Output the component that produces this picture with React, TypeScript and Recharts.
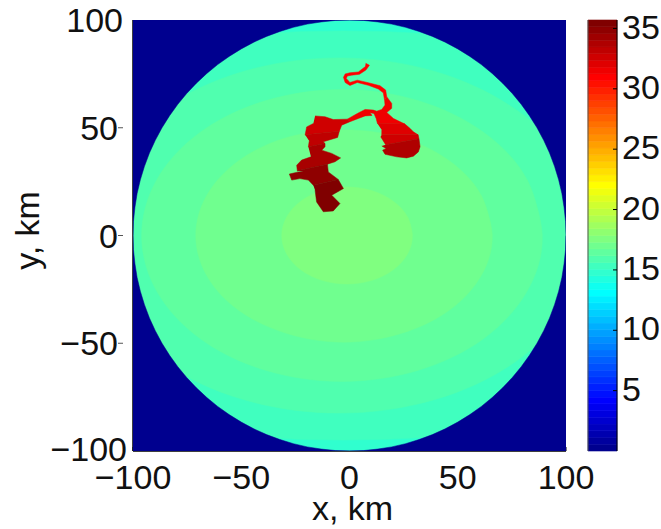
import React from 'react';
import { BarChart, Bar, ScatterChart, Scatter, XAxis, YAxis, ReferenceLine } from 'recharts';

type Pair = number[];

const AXIS_TICKS = [-100, -50, 0, 50, 100];
const COLORBAR_TICKS = [5, 10, 15, 20, 25, 30, 35];
const COLORBAR_MAX = 35.7;

// background bands, km
const PLOT_RECT: Pair[] = [[-100, -100], [100, -100], [100, 100], [-100, 100]];
const BAND_1: Pair[] = [
    [-123, 82.2], [-103, 86.3], [-83, 89.5], [-63, 91.9], [-43, 93.6], [-23, 94.6], [-3, 94.9], [17, 94.6], [37, 93.6], [57, 91.9], [77, 89.5], [97, 86.3], [117, 82.2],
    [117, -82.2], [97, -86.3], [77, -89.5], [57, -91.9], [37, -93.6], [17, -94.6], [-3, -94.9], [-23, -94.6], [-43, -93.6], [-63, -91.9], [-83, -89.5], [-103, -86.3], [-123, -82.2],
];
const BAND_2: Pair[] = [
    [110.9, 0], [102.1, 31.5], [77, 58.3], [39.5, 76.1], [-4.8, 82.4], [-49.1, 76.1], [-86.6, 58.3], [-111.7, 31.5], [-120.5, 0],
    [-111.7, -31.5], [-86.6, -58.3], [-49.1, -76.1], [-4.8, -82.4], [39.5, -76.1], [77, -58.3], [102.1, -31.5], [110.9, 0], [102.1, 31.5],
];
const BAND_3: Pair[] = [
    [89, 0], [82, 25.9], [61.9, 47.9], [31.9, 62.5], [-3.5, 67.7], [-38.9, 62.5], [-68.9, 47.9], [-89, 25.9], [-96, 0],
    [-89, -25.9], [-68.9, -47.9], [-38.9, -62.5], [-3.5, -67.7], [31.9, -62.5], [61.9, -47.9], [82, -25.9], [89, 0], [82, 25.9],
];
const BAND_4: Pair[] = [
    [65.9, 0], [60.7, 18.8], [45.9, 34.8], [23.7, 45.5], [-2.6, 49], [-28.8, 45.5], [-51, 34.8], [-65.8, 18.8], [-71, 0],
    [-65.8, -18.8], [-51, -34.8], [-28.8, -45.5], [-2.6, -49.5], [23.7, -45.5], [45.9, -34.8], [60.7, -18.8], [65.9, 0], [60.7, 18.8],
];
const BAND_5: Pair[] = [
    [29, 0], [26.8, 8.6], [20.2, 15.9], [10.4, 20.8], [-1.2, 22.5], [-12.7, 20.8], [-22.5, 15.9], [-29, 8.6], [-31.3, 0],
    [-29, -8.6], [-22.5, -15.9], [-12.7, -20.8], [-1.2, -22.5], [10.4, -20.8], [20.2, -15.9], [26.8, -8.6], [29, 0], [26.8, 8.6],
];

// quarter of the radius 100 disc edge
const DISC_ARC: Pair[] = [
    [100, 0], [99.8, 6.5], [99.1, 13.1], [98.1, 19.5], [96.6, 25.9], [94.7, 32.1], [92.4, 38.3], [89.7, 44.2], [86.6, 50], [83.1, 55.6], [79.3, 60.9], [75.2, 65.9],
    [70.7, 70.7], [65.9, 75.2], [60.9, 79.3], [55.6, 83.1], [50, 86.6], [44.2, 89.7], [38.3, 92.4], [32.1, 94.7], [25.9, 96.6], [19.5, 98.1], [13.1, 99.1], [6.5, 99.8], [0, 100],
];
const OUTSIDE_DISC: Pair[] = [
    ...DISC_ARC,
    ...[...DISC_ARC].reverse().map(([x, y]) => [-x, y]),
    ...DISC_ARC.map(([x, y]) => [-x, -y]),
    ...[...DISC_ARC].reverse().map(([x, y]) => [x, -y]),
    [100, -100], [-100, -100], [-100, 100], [100, 100],
];

// flooded area, one outline per colour step
const CHANNEL: Pair[] = [
    [7.5, 79.9], [9.2, 79], [7.6, 76.8], [4.6, 74.8], [1, 74.4], [-1, 74], [-1.5, 72.9], [0.2, 71], [3.6, 72.1], [8.7, 70.9], [14.1, 69.5], [16.7, 67.5], [17.2, 64.4],
    [16.2, 62.8], [15.6, 66.2], [13.3, 68], [8.7, 69.7], [3.6, 71], [0.2, 69.6], [-2, 71], [-2.8, 73.4], [-2, 75], [0.2, 75.5], [4.1, 75.9], [7.2, 78.3],
];
const BRIDGE: Pair[] = [
    [17.2, 64.4], [19.5, 61.3], [19.5, 59], [17.2, 57.1], [20.3, 54.3], [25.6, 51.7], [12.9, 52], [12.3, 54.3], [11.3, 56.6], [9.5, 57], [10.4, 55.7], [7.2, 55.5],
    [4.1, 54.3], [0.2, 52.8], [-1, 54], [3.6, 56.6], [7.2, 58.5], [11, 58.2], [12.6, 57.7], [14.9, 58.5], [16.4, 60.5], [16.2, 62.8],
];
const EAST_1: Pair[] = [[12.9, 52], [25.6, 51.7], [28, 49.7], [29.5, 48.1], [31.7, 46.7], [14.9, 46.7], [14.9, 48.9]];
const EAST_2: Pair[] = [[14.9, 46.7], [31.7, 46.7], [32.1, 44.9], [16.7, 42.1], [15.6, 43.9], [14.4, 45.8]];
const EAST_3: Pair[] = [
    [16.7, 42.1], [32.1, 44.9], [32.6, 41.2], [31.8, 38.8], [29.5, 36.8], [26.4, 36], [21.8, 36.5], [16.4, 37.7], [15.3, 39.6], [16.9, 40.4], [14.9, 41.5],
];
const WEST_1: Pair[] = [[-15.9, 55.5], [-11.3, 55.1], [-7.5, 53.8], [-1, 54], [0.2, 52.8], [-3.6, 51.2], [-4.7, 48.4], [-20.5, 46.7], [-19.8, 50.4], [-16.7, 52]];
const WEST_2: Pair[] = [[-20.5, 46.7], [-4.7, 48.4], [-5.5, 45.5], [-12.1, 43.5], [-11.3, 42.7], [-19, 41.2], [-18.6, 43.8]];
const WEST_3: Pair[] = [
    [-19, 41.2], [-11.3, 42.7], [-11.3, 41.2], [-12.8, 39.6], [-8.2, 38.1], [-4.1, 36], [-6.7, 34.2], [-10.2, 33.1], [-24.1, 30], [-24.4, 32.6], [-22.1, 35], [-17.8, 36.5],
];
const WEST_4: Pair[] = [[-24.1, 30], [-10.2, 33.1], [-9.8, 29.5], [-5.2, 26], [-16.7, 23.3], [-19, 25.7], [-22.9, 26.4], [-26.7, 25.7], [-27.8, 28.5], [-23.6, 29.5], [-21.3, 29.5]];
const WEST_5: Pair[] = [[-16.7, 23.3], [-5.2, 26], [-2.8, 21.8], [-8.2, 18.7], [-4.4, 14.8], [-7.5, 11.4], [-12.1, 11], [-15.2, 15.6], [-15.9, 21]];

const JET = [
    '#00008f', '#00009f', '#0000af', '#0000bf', '#0000cf', '#0000df', '#0000ef', '#0000ff',
    '#0010ff', '#0020ff', '#0030ff', '#0040ff', '#0050ff', '#0060ff', '#0070ff', '#0080ff',
    '#008fff', '#009fff', '#00afff', '#00bfff', '#00cfff', '#00dfff', '#00efff', '#00ffff',
    '#10ffef', '#20ffdf', '#30ffcf', '#40ffbf', '#50ffaf', '#60ff9f', '#70ff8f', '#80ff80',
    '#8fff70', '#9fff60', '#afff50', '#bfff40', '#cfff30', '#dfff20', '#efff10', '#ffff00',
    '#ffef00', '#ffdf00', '#ffcf00', '#ffbf00', '#ffaf00', '#ff9f00', '#ff8f00', '#ff8000',
    '#ff7000', '#ff6000', '#ff5000', '#ff4000', '#ff3000', '#ff2000', '#ff1000', '#ff0000',
    '#ef0000', '#df0000', '#cf0000', '#bf0000', '#af0000', '#9f0000', '#8f0000', '#800000',
];

const LAYERS: { points: Pair[]; color: string; joint: 'linear' | 'natural' }[] = [
    { points: PLOT_RECT, color: '#30ffcf', joint: 'linear' },
    { points: BAND_1, color: '#40ffbf', joint: 'linear' },
    { points: BAND_2, color: '#50ffaf', joint: 'natural' },
    { points: BAND_3, color: '#60ff9f', joint: 'natural' },
    { points: BAND_4, color: '#70ff8f', joint: 'natural' },
    { points: BAND_5, color: '#80ff80', joint: 'natural' },
    { points: OUTSIDE_DISC, color: '#00008f', joint: 'linear' },
    { points: CHANNEL, color: '#ff0000', joint: 'linear' },
    { points: BRIDGE, color: '#ef0000', joint: 'linear' },
    { points: EAST_1, color: '#df0000', joint: 'linear' },
    { points: EAST_2, color: '#cf0000', joint: 'linear' },
    { points: EAST_3, color: '#af0000', joint: 'linear' },
    { points: WEST_1, color: '#cf0000', joint: 'linear' },
    { points: WEST_2, color: '#bf0000', joint: 'linear' },
    { points: WEST_3, color: '#a80000', joint: 'linear' },
    { points: WEST_4, color: '#8f0000', joint: 'linear' },
    { points: WEST_5, color: '#800000', joint: 'linear' },
];

const FONT = '"Liberation Sans", Arial, sans-serif';
const FONT_SIZE = 34;

const minus = (v: number) => String(v).replace('-', '\u2212');

const YTick = ({ x, y, payload }: any) => {
    const v = payload.value;
    const inset = v === 100 ? 10 : v === -100 ? 6 : 15;
    return (
        <g>
            <text x={x - inset} y={y + (v === -100 ? 10 : 12)} textAnchor="end" fontFamily={FONT} fontSize={FONT_SIZE} fill="#111">
                {minus(v)}
            </text>
            {Math.abs(v) < 100 && <line x1={x - 15} x2={x - 10} y1={y} y2={y} stroke="#555" />}
        </g>
    );
};

const FloodMap = () => (
    <ScatterChart width={661} height={529} margin={{ top: 20, right: 95, bottom: 38, left: 73 }}>
        {LAYERS.map((layer, i) => (
            <Scatter
                key={i}
                data={layer.points.map(([x, y]) => ({ x, y }))}
                line={{ fill: layer.color, stroke: layer.color, strokeWidth: 0.5 }}
                lineJointType={layer.joint}
                shape={() => <g />}
                isAnimationActive={false}
            />
        ))}
        <XAxis
            type="number"
            dataKey="x"
            domain={[-100, 100]}
            allowDataOverflow
            ticks={AXIS_TICKS}
            interval={0}
            height={40}
            tickSize={-4}
            tickMargin={18}
            tickFormatter={minus}
            stroke="#000"
            tick={{ fontFamily: FONT, fontSize: FONT_SIZE, fill: '#111' }}
            label={{ value: 'x, km', position: 'bottom', offset: 5, dx: 3, fontFamily: FONT, fontSize: 34, fill: '#111' }}
        />
        <YAxis
            type="number"
            dataKey="y"
            domain={[-100, 100]}
            allowDataOverflow
            ticks={AXIS_TICKS}
            interval={0}
            width={60}
            tickLine={false}
            tickSize={0}
            tickMargin={0}
            stroke="#000"
            tick={<YTick />}
            label={{ value: 'y, km', angle: -90, position: 'center', dx: -76, dy: -5, fontFamily: FONT, fontSize: 34, fill: '#111' }}
        />
        <ReferenceLine x={-100} stroke="#000" />
        <ReferenceLine y={-100} stroke="#000" />
    </ScatterChart>
);

const colorbarRow = JET.reduce<Record<string, number | string>>(
    (row, _c, i) => {
        row[`band${i}`] = COLORBAR_MAX / JET.length;
        return row;
    },
    { name: 'c' }
);

const Colorbar = () => (
    <BarChart
        width={661}
        height={529}
        data={[colorbarRow]}
        barCategoryGap={0}
        margin={{ top: 20, right: 4, bottom: 78, left: 587 }}
    >
        {JET.map((color, i) => (
            <Bar key={color} dataKey={`band${i}`} stackId="bar" yAxisId="right" fill={color} stroke={color} strokeWidth={0.6} isAnimationActive={false} />
        ))}
        <XAxis dataKey="name" height={0} tick={false} tickLine={false} stroke="#000" />
        <XAxis dataKey="name" xAxisId="top" orientation="top" height={0} tick={false} tickLine={false} stroke="#777" />
        <YAxis
            yAxisId="left"
            orientation="left"
            width={1}
            domain={[0, COLORBAR_MAX]}
            ticks={COLORBAR_TICKS}
            interval={0}
            tick={false}
            tickSize={-4}
            stroke="#555"
        />
        <YAxis
            yAxisId="right"
            orientation="right"
            width={40}
            domain={[0, COLORBAR_MAX]}
            ticks={COLORBAR_TICKS}
            interval={0}
            tickSize={-4}
            tickMargin={9}
            stroke="#000"
            tick={{ fontFamily: FONT, fontSize: FONT_SIZE, fill: '#111', dy: -2 }}
        />
    </BarChart>
);

export default function App() {
    return (
        <div style={{ position: 'absolute', left: 0, top: 0, width: 661, height: 529, background: '#fff', overflow: 'hidden' }}>
            <div style={{ position: 'absolute', left: 0, top: 0 }}>
                <FloodMap />
            </div>
            <div style={{ position: 'absolute', left: 0, top: 0 }}>
                <Colorbar />
            </div>
        </div>
    );
}
